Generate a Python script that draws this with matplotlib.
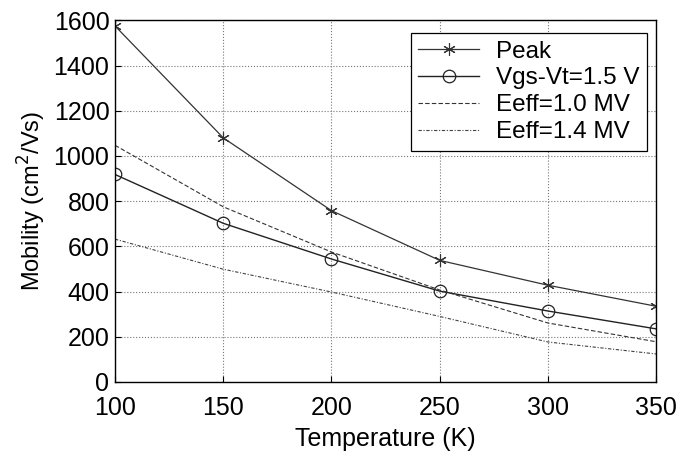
import matplotlib.pyplot as plt
import numpy as np

plt.rcParams['font.family'] = ['Liberation Sans', 'DejaVu Sans']

# temperatures (K)
temp = [100, 150, 200, 250, 300, 350]

# mobility values (cm^2/Vs)
peak = [1575, 1080, 758, 538, 428, 335]
vgs_vt = [918, 702, 544, 402, 314, 235]
eeff_10 = [1047, 775, 575, 407, 261, 178]
eeff_14 = [632, 499, 398, 290, 177, 124]

fig = plt.figure(figsize=(6.79, 4.51), dpi=100)
ax = fig.add_axes([0.1694, 0.153, 0.797, 0.802])

ax.plot(temp, peak, '-', color='#333333', lw=0.9, marker=(6, 2, 0),
        markersize=9, mec='#333333', mew=0.8, label='Peak')
ax.plot(temp, vgs_vt, '-', color='#222222', lw=1.0, marker='o',
        markersize=9, mfc='none', mec='#222222', mew=0.9, label='Vgs-Vt=1.5 V')
ax.plot(temp, eeff_10, '--', color='#333333', lw=0.8, dashes=(4, 2),
        label='Eeff=1.0 MV')
ax.plot(temp, eeff_14, '-.', color='#444444', lw=0.8, dashes=(3, 1.5, 1, 1.5),
        label='Eeff=1.4 MV')

ax.set_xlim(100, 350)
ax.set_ylim(0, 1600)
ax.set_xticks(np.arange(100, 351, 50))
ax.set_yticks(np.arange(0, 1601, 200))
ax.grid(True, linestyle=':', color='#777777', lw=0.8)
ax.tick_params(labelsize=18, direction='in', length=4, pad=4)
ax.tick_params(axis='x', pad=10)
for s in ax.spines.values():
    s.set_linewidth(1.0)

ax.set_xlabel('Temperature (K)', fontsize=18, labelpad=5)
ax.set_ylabel('Mobility (cm$^2$/Vs)', fontsize=17, labelpad=4)

leg = ax.legend(loc='upper right', fontsize=17.5, frameon=True, fancybox=False,
                edgecolor='black', framealpha=1, handlelength=2.5,
                borderpad=0.3, labelspacing=0.2, handletextpad=0.7,
                borderaxespad=0, bbox_to_anchor=(0.983, 0.964))
leg.get_frame().set_linewidth(0.9)

fig.savefig('out.png', dpi=100)
